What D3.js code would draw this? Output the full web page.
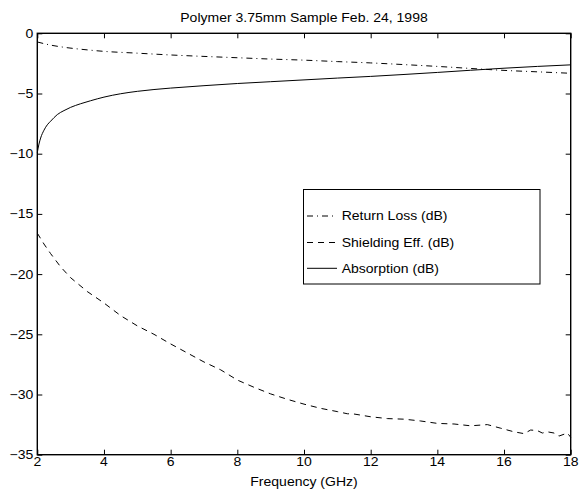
<!DOCTYPE html>
<html>
<head>
<meta charset="utf-8">
<script src="https://cdn.jsdelivr.net/npm/d3@7"></script>
<style>
  body { margin: 0; background: #fff; }
  text { font-family: "Liberation Sans", Arial, sans-serif; font-size: 12.4px; fill: #000; }
</style>
</head>
<body>
<script>
//Width and height
var w = 582;
var h = 490;

//horizontal stretch of the lettering in the original print
var stretch = 1.13;

//frequencies (GHz) for the smooth curves
var freqSmooth = [2.0, 2.05, 2.1, 2.2, 2.3, 2.4, 2.6, 2.8, 3.0, 3.3, 3.6, 4.0, 4.5, 5.0, 5.5, 6.0,
                  7.0, 8.0, 9.0, 10.0, 11.0, 12.0, 13.0, 14.0, 15.0, 16.0, 17.0, 18.0];
var absorption = [-9.9, -9.2, -8.7, -8.05, -7.6, -7.3, -6.75, -6.42, -6.15, -5.85, -5.6, -5.3, -5.02, -4.82, -4.67, -4.55,
                  -4.35, -4.17, -4.02, -3.87, -3.72, -3.58, -3.42, -3.25, -3.07, -2.9, -2.75, -2.62];

var freqReturn = [2.0, 2.4, 2.8, 3.4, 4.0, 5.0, 6.0, 7.0, 8.0, 9.0, 10.0, 11.0, 12.0, 13.0, 14.0, 15.0, 16.0, 17.0, 18.0];
var returnLoss = [-0.72, -0.98, -1.16, -1.35, -1.5, -1.65, -1.8, -1.92, -2.03, -2.14, -2.23, -2.35, -2.46, -2.6, -2.75, -2.92, -3.08, -3.2, -3.32];

//shielding effectiveness is noisier, so more points
var freqShield = [2.0, 2.2, 2.4, 2.7, 3.0, 3.5, 4.0, 4.5, 5.0, 5.5, 6.0, 6.5, 7.0, 7.5, 8.0, 8.5, 9.0, 9.5,
                  10.0, 10.5, 11.0, 11.3, 11.5, 12.0, 12.5, 13.0, 13.5, 14.0, 14.5, 15.0, 15.5, 15.9, 16.3,
                  16.6, 16.8, 17.0, 17.15, 17.3, 17.5, 17.65, 17.9, 18.0];
var shielding = [-16.6, -17.5, -18.3, -19.4, -20.3, -21.45, -22.4, -23.45, -24.3, -25.0, -25.8, -26.55, -27.3, -27.95,
                 -28.8, -29.4, -29.95, -30.4, -30.8, -31.15, -31.42, -31.6, -31.62, -31.85, -32.0, -32.05, -32.2,
                 -32.4, -32.45, -32.6, -32.5, -32.8, -33.1, -33.25, -32.95, -33.0, -33.2, -33.1, -33.2, -33.45,
                 -33.2, -33.55];

//tick values
var xTicks = [2, 4, 6, 8, 10, 12, 14, 16, 18];
var yTicks = [0, -5, -10, -15, -20, -25, -30, -35];

var titleText = "Polymer 3.75mm Sample Feb. 24, 1998";
var xLabel = "Frequency (GHz)";
var legendNames = ["Return Loss (dB)", "Shielding Eff. (dB)", "Absorption (dB)"];
var legendDash = ["6,4,1,4", "6,5", null];

//plot box (names avoid window.top)
var boxL = 37.3, boxR = 570.7, boxT = 33.3, boxB = 454.7;

var x = d3.scaleLinear().domain([2, 18]).range([boxL, boxR]);
var y = d3.scaleLinear().domain([-35, 0]).range([boxB, boxT]);

//Create SVG element
var svg = d3.select("body")
            .append("svg")
            .attr("width", w)
            .attr("height", h);

//text helper with the stretched letters
function label(g, tx, ty, str, anchor) {
    return g.append("text")
            .attr("transform", "translate(" + tx + "," + ty + ") scale(" + stretch + ",1)")
            .attr("text-anchor", anchor)
            .text(str);
}

//ticks on all four sides, pointing inward
svg.append("g").attr("transform", "translate(0," + boxB + ")")
   .call(d3.axisBottom(x).tickValues(xTicks).tickSizeInner(-5).tickSizeOuter(0).tickFormat(""));
svg.append("g").attr("transform", "translate(0," + boxT + ")")
   .call(d3.axisTop(x).tickValues(xTicks).tickSizeInner(-5).tickSizeOuter(0).tickFormat(""));
svg.append("g").attr("transform", "translate(" + boxL + ",0)")
   .call(d3.axisLeft(y).tickValues(yTicks).tickSizeInner(-5).tickSizeOuter(0).tickFormat(""));
svg.append("g").attr("transform", "translate(" + boxR + ",0)")
   .call(d3.axisRight(y).tickValues(yTicks).tickSizeInner(-5).tickSizeOuter(0).tickFormat(""));
svg.selectAll(".domain").remove();
svg.selectAll(".tick line").attr("stroke", "#000").attr("stroke-width", 1);

//tick labels
var fmt = d3.format("d");
xTicks.forEach(function(t) { label(svg, x(t), boxB + 10.8, fmt(t), "middle"); });
yTicks.forEach(function(t) { label(svg, boxL - 4, y(t) + 4.4, fmt(t), "end"); });

//box
svg.append("rect")
   .attr("x", boxL).attr("y", boxT)
   .attr("width", boxR - boxL).attr("height", boxB - boxT)
   .attr("fill", "none").attr("stroke", "#000").attr("stroke-width", 1.4);

//curves
function drawLine(xs, ys, dash, curve) {
    var line = d3.line()
                 .x(function(d, i) { return x(xs[i]); })
                 .y(function(d) { return y(d); })
                 .curve(curve);
    svg.append("path")
       .attr("d", line(ys))
       .attr("fill", "none")
       .attr("stroke", "#000")
       .attr("stroke-width", 1)
       .attr("stroke-dasharray", dash);
}
drawLine(freqReturn, returnLoss, legendDash[0], d3.curveMonotoneX);
drawLine(freqShield, shielding, legendDash[1], d3.curveLinear);
drawLine(freqSmooth, absorption, legendDash[2], d3.curveMonotoneX);

//title and axis label
label(svg, (boxL + boxR) / 2, 21.6, titleText, "middle");
label(svg, (boxL + boxR) / 2, 486.2, xLabel, "middle");

//legend
var lg = svg.append("g");
lg.append("rect")
  .attr("x", 303.5).attr("y", 189.5)
  .attr("width", 236.5).attr("height", 94.5)
  .attr("fill", "#fff").attr("stroke", "#000").attr("stroke-width", 1);
var rowY = [216, 242.5, 268.3];
legendNames.forEach(function(name, i) {
    lg.append("line")
      .attr("x1", 307).attr("x2", 337)
      .attr("y1", rowY[i]).attr("y2", rowY[i])
      .attr("stroke", "#000").attr("stroke-width", 1)
      .attr("stroke-dasharray", legendDash[i]);
    label(lg, 341.7, rowY[i] + 4.4, name, "start");
});
</script>
</body>
</html>
